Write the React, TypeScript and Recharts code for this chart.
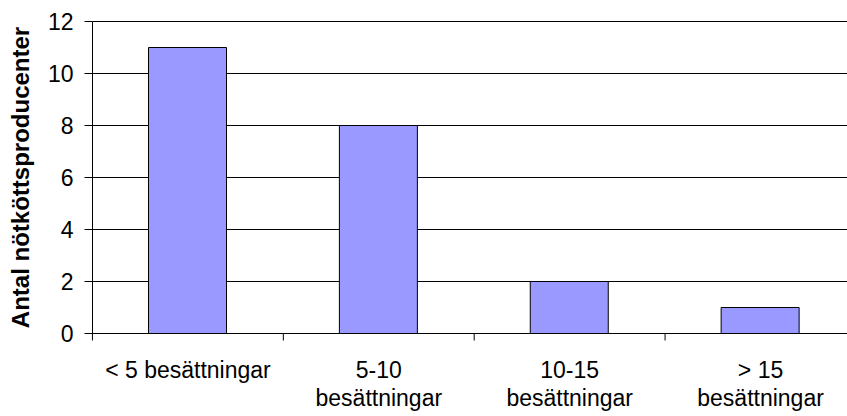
import { Bar, BarChart, CartesianGrid, XAxis, YAxis, Label } from "recharts";

const categories = ["< 5 besättningar", "5-10 besättningar", "10-15 besättningar", "> 15 besättningar"];
const categoryLines = [["< 5 besättningar"], ["5-10", "besättningar"], ["10-15", "besättningar"], ["> 15", "besättningar"]];
const producers = [11, 8, 2, 1];
const yTicks = [0, 2, 4, 6, 8, 10, 12];
const yTitle = "Antal nötköttsproducenter";

const data = categories.map((c, i) => ({ name: c, value: producers[i] }));

const W = 856;
const H = 416;
const Y_AXIS_W = 92;
const BAND = (W - Y_AXIS_W) / categories.length;
const FONT = "'Liberation Sans', Arial, sans-serif";

const XTick = (props: any) => {
  const { x, y, index } = props;
  const lines = categoryLines[index] || [];
  const isLast = index === categories.length - 1;
  return (
    <g>
      <line x1={x - BAND / 2} y1={y} x2={x - BAND / 2} y2={y + 7} stroke="#000" />
      {isLast && <line x1={x + BAND / 2} y1={y} x2={x + BAND / 2} y2={y + 7} stroke="#000" />}
      {lines.map((l: string, i: number) => (
        <text key={i} x={x} y={y + 44 + i * 28} textAnchor="middle" fontSize={23} fontFamily={FONT} fill="#000">
          {l}
        </text>
      ))}
    </g>
  );
};

const YTitle = (props: any) => {
  const vb = props.viewBox || { y: 22, height: 312 };
  const cy = vb.y + vb.height / 2;
  return (
    <text
      x={20}
      y={cy}
      transform={`rotate(-90, 20, ${cy})`}
      textAnchor="middle"
      dominantBaseline="central"
      fontSize={24}
      fontWeight="bold"
      fontFamily={FONT}
      fill="#000"
    >
      {yTitle}
    </text>
  );
};

export default function App() {
  return (
    <div style={{ position: "absolute", left: 0, top: 0, width: 847, height: 416, overflow: "hidden", background: "#fff" }}>
      <BarChart width={W} height={H} data={data} margin={{ top: 21.5, right: 0, bottom: 0.5, left: 0.5 }}>
        <CartesianGrid vertical={false} stroke="#000" strokeWidth={1} />
        <XAxis
          dataKey="name"
          height={82}
          axisLine={{ stroke: "#000" }}
          tickLine={false}
          tickSize={0}
          tickMargin={0}
          interval={0}
          tick={<XTick />}
        />
        <YAxis
          width={Y_AXIS_W}
          domain={[0, 12]}
          ticks={yTicks}
          interval={0}
          axisLine={{ stroke: "#000" }}
          tickLine={{ stroke: "#000" }}
          tickSize={8}
          tickMargin={11}
          tick={{ fill: "#000", fontSize: 23, fontFamily: FONT }}
        >
          <Label content={<YTitle />} />
        </YAxis>
        <Bar dataKey="value" fill="#9999FF" stroke="#000" strokeWidth={1} barSize={78} isAnimationActive={false} />
      </BarChart>
    </div>
  );
}
